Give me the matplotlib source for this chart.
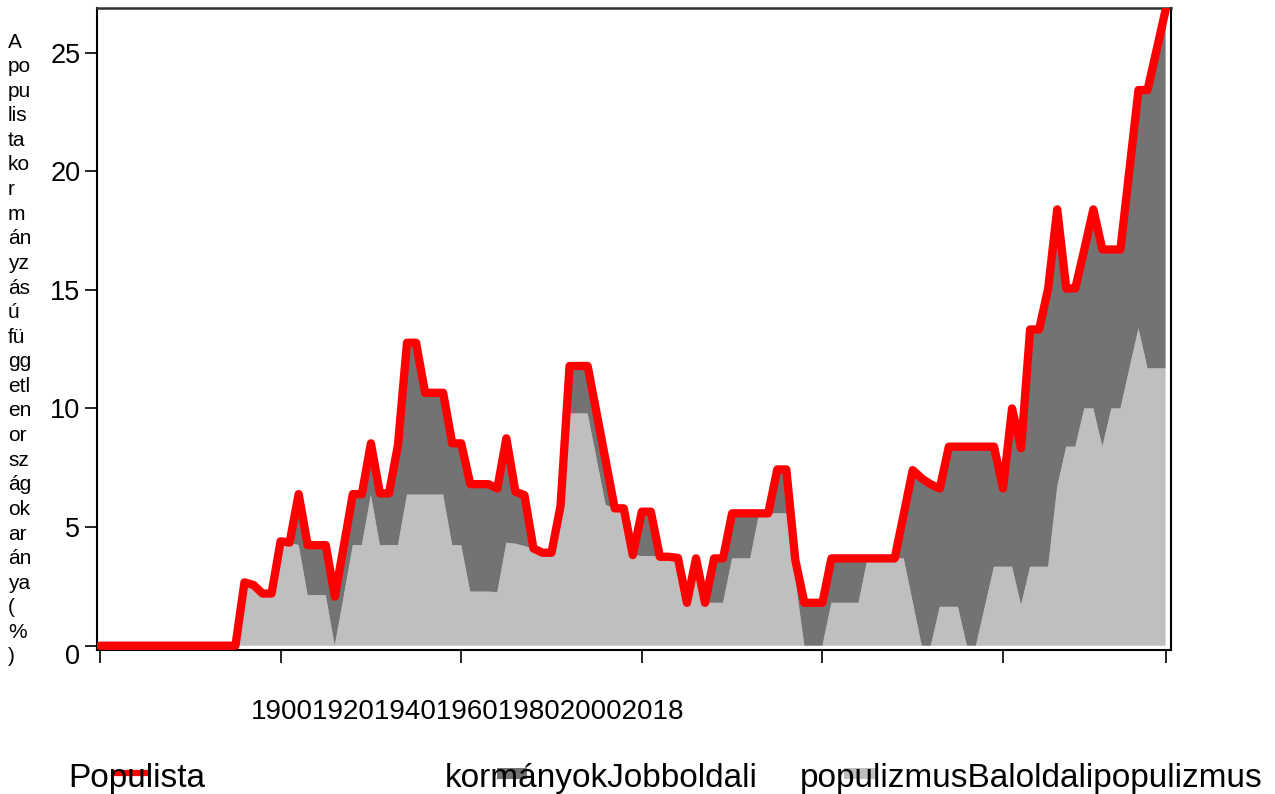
import numpy as np
import matplotlib
matplotlib.use("Agg")
import matplotlib.pyplot as plt
import matplotlib.transforms as mtransforms
from matplotlib.patches import Rectangle
from matplotlib.lines import Line2D

plt.rcParams['font.family'] = ['Liberation Sans', 'DejaVu Sans']

# ---------------- data ----------------
years = list(range(1900, 2019))

left_wing = [  # Baloldali populizmus (light gray, bottom)
    0, 0, 0, 0, 0, 0, 0, 0, 0, 0, 0, 0, 0, 0, 0, 0,
    2.67, 2.56, 2.2, 2.2, 4.4, 4.35, 4.24, 2.13, 2.13, 2.13,
    0, 2.1, 4.24, 4.24, 6.35, 4.24, 4.24, 4.24, 6.37, 6.37,
    6.37, 6.37, 6.37, 4.24, 4.24, 2.28, 2.28, 2.28, 2.26, 4.34,
    4.3, 4.2, 4.1, 3.92, 3.92, 5.89, 9.79, 9.79, 9.79, 7.86,
    5.93, 5.79, 5.79, 3.82, 3.78, 3.78, 3.75, 3.75, 3.7, 1.81,
    3.68, 1.81, 1.81, 1.81, 3.68, 3.68, 3.68, 5.58, 5.58, 5.58,
    5.58, 2.79, 0, 0, 0, 1.81, 1.81, 1.81, 1.81, 3.68,
    3.68, 3.68, 3.68, 3.68, 1.84, 0, 0, 1.64, 1.64, 1.64,
    0, 0, 1.67, 3.33, 3.33, 3.33, 1.71, 3.33, 3.33, 3.33,
    6.7, 8.39, 8.39, 10.0, 10.0, 8.39, 10.0, 10.0, 11.7, 13.37,
    11.69, 11.69, 11.69,
]

right_wing = [  # Jobboldali populizmus (dark gray, stacked on top)
    0, 0, 0, 0, 0, 0, 0, 0, 0, 0, 0, 0, 0, 0, 0, 0,
    0, 0, 0, 0, 0, 0, 2.15, 2.11, 2.11, 2.11,
    2.07, 2.1, 2.15, 2.15, 2.18, 2.18, 2.18, 4.22, 6.4, 6.4,
    4.29, 4.29, 4.29, 4.29, 4.29, 4.53, 4.53, 4.53, 4.37, 4.4,
    2.19, 2.15, 0, 0, 0, 0, 2.0, 2.0, 2.0, 1.93,
    1.86, 0, 0, 0, 1.87, 1.87, 0, 0, 0, 0,
    0, 0, 1.87, 1.87, 1.9, 1.9, 1.9, 0, 0, 1.85,
    1.85, 0.82, 1.81, 1.81, 1.81, 1.87, 1.87, 1.87, 1.87, 0,
    0, 0, 0, 1.86, 5.56, 7.05, 6.8, 4.99, 6.75, 6.75,
    8.39, 8.39, 6.72, 5.06, 3.3, 6.67, 6.61, 10.0, 10.0, 11.73,
    11.69, 6.67, 6.67, 6.7, 8.39, 8.31, 6.7, 6.7, 8.36, 10.05,
    11.73, 13.41, 15.1,
]

y_ticks = [0, 5, 10, 15, 20, 25]
x_ticks = [1900, 1920, 1940, 1960, 1980, 2000, 2018]
x_tick_text = "1900192019401960198020002018"
y_label_chunks = ["A", "po", "pu", "lis", "ta", "ko", "r", "m", "án", "yz", "ás", "ú",
                  "fü", "gg", "etl", "en", "or", "sz", "ág", "ok", "ar", "án", "ya",
                  "(", "%", ")"]
legend_texts = [("Populista", 68), ("kormányokJobboldali", 445),
                ("populizmusBaloldalipopulizmus", 800)]

LIGHT = "#BFBFBF"
DARK = "#737373"
RED = "#FF0000"

W, H = 1275, 794
fig = plt.figure(figsize=(W / 100, H / 100), dpi=100)


def fx(px):
    return px / W


def fy(py):
    return 1 - py / H


ax = fig.add_axes([fx(97), fy(650), fx(1171) - fx(97), fy(7.5) - fy(650)])

total = np.array(left_wing) + np.array(right_wing)
ax.stackplot(years, left_wing, right_wing, colors=[LIGHT, DARK], linewidth=0)
ax.plot(years, total, color=RED, lw=6.0, solid_capstyle='round',
        solid_joinstyle='round', zorder=5)

ax.set_xlim(1899.67, 2018.6)
ax.set_ylim(-0.18, 26.9)

ax.set_yticks(y_ticks)
ax.set_yticklabels([str(v) for v in y_ticks], fontsize=19.5)
ax.set_xticks(x_ticks)
ax.set_xticklabels([])
ax.tick_params(axis='both', direction='out', length=9, width=1.2, color='black', pad=3)

# the "0" label sits a little lower in the reference
lbl0 = ax.get_yticklabels()[0]
lbl0.set_transform(lbl0.get_transform() +
                   mtransforms.ScaledTranslation(0, -8 / 100, fig.dpi_scale_trans))

for s in ['left', 'bottom', 'right']:
    ax.spines[s].set_linewidth(1.5)
    ax.spines[s].set_color('black')
ax.spines['top'].set_linewidth(1.8)
ax.spines['top'].set_color('#333333')

# concatenated x tick text
fig.text(fx(468), fy(712), x_tick_text, fontsize=20, ha='center', va='center')

# y-label chunks
y0, dy = 42, 24.6
for i, ch in enumerate(y_label_chunks):
    fig.text(fx(8), fy(y0 + i * dy), ch, fontsize=15, ha='left', va='center')

# legend
for txt, x in legend_texts:
    fig.text(fx(x), fy(787), txt, fontsize=24, ha='left', va='baseline')

fig.add_artist(Line2D([fx(116), fx(145)], [fy(773), fy(773)], color=RED, lw=4.5,
                      transform=fig.transFigure))
fig.add_artist(Rectangle((fx(497), fy(779)), fx(527) - fx(497), fy(768) - fy(779),
                         facecolor=DARK, edgecolor='none', transform=fig.transFigure))
fig.add_artist(Rectangle((fx(844), fy(779)), fx(877) - fx(844), fy(768) - fy(779),
                         facecolor=LIGHT, edgecolor='none', transform=fig.transFigure))

fig.savefig("out.png", dpi=100)
